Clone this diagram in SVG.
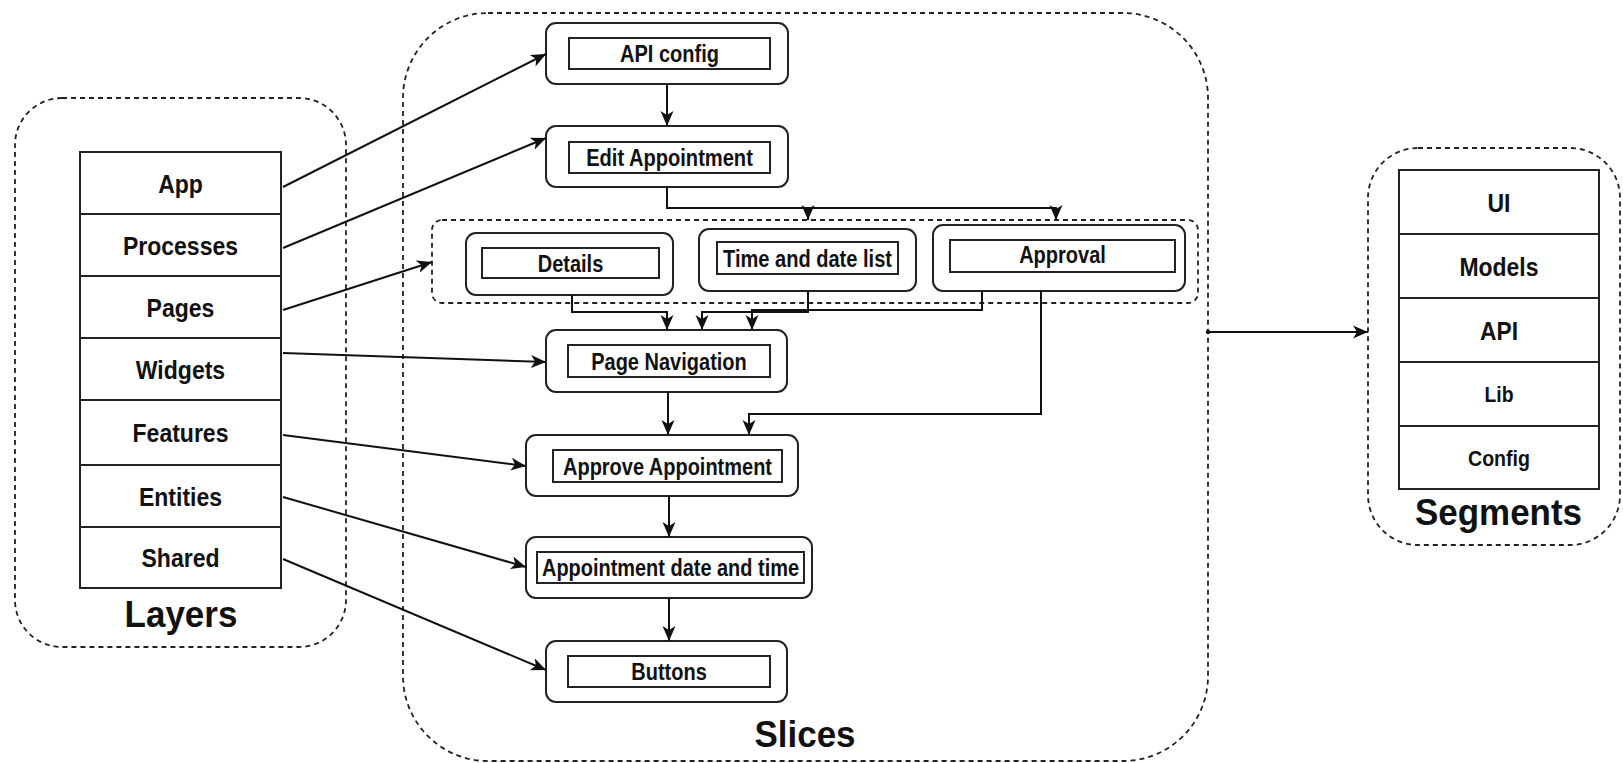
<svg xmlns="http://www.w3.org/2000/svg" width="1623" height="763" viewBox="0 0 1623 763">
  <style>
    .bg { fill: #ffffff; }
    .frame { fill: none; stroke: #222; stroke-width: 1.8; stroke-dasharray: 5 4; }
    .cell { fill: #ffffff; stroke: #222; stroke-width: 2; }
    .outer { fill: #ffffff; stroke: #222; stroke-width: 2; }
    .inner { fill: #ffffff; stroke: #222; stroke-width: 2; }
    .wire { fill: none; stroke: #111; stroke-width: 2; }
    text { font-family: "Liberation Sans", Arial, sans-serif; font-weight: bold; fill: #111; text-anchor: middle; }
    .layer { font-size: 26.5px; }
    .small { font-size: 22.5px; }
    .node { font-size: 23px; }
    .title { font-size: 37px; }
  </style>
  <defs>
    <marker id="arrow" markerUnits="userSpaceOnUse" markerWidth="16" markerHeight="14" refX="15" refY="7" orient="auto">
      <path d="M0,0.5 L15,7 L0,13.5 L4,7 Z" fill="#111"/>
    </marker>
  </defs>

  <rect class="bg" x="0" y="0" width="1623" height="763"/>

  <!-- Layers column -->
  <g id="layers">
    <rect class="frame" x="15" y="98" width="331" height="549" rx="47"/>
    <g id="layer-app">
      <rect class="cell" x="80" y="152" width="201" height="62"/>
      <text class="layer" x="180.5" y="192.5" textLength="44.7" lengthAdjust="spacingAndGlyphs">App</text>
    </g>
    <g id="layer-processes">
      <rect class="cell" x="80" y="214" width="201" height="62"/>
      <text class="layer" x="180.5" y="254.5" textLength="115" lengthAdjust="spacingAndGlyphs">Processes</text>
    </g>
    <g id="layer-pages">
      <rect class="cell" x="80" y="276" width="201" height="62"/>
      <text class="layer" x="180.5" y="316.5" textLength="67.8" lengthAdjust="spacingAndGlyphs">Pages</text>
    </g>
    <g id="layer-widgets">
      <rect class="cell" x="80" y="338" width="201" height="62"/>
      <text class="layer" x="180.5" y="378.5" textLength="89.4" lengthAdjust="spacingAndGlyphs">Widgets</text>
    </g>
    <g id="layer-features">
      <rect class="cell" x="80" y="400" width="201" height="65"/>
      <text class="layer" x="180.5" y="442" textLength="95.9" lengthAdjust="spacingAndGlyphs">Features</text>
    </g>
    <g id="layer-entities">
      <rect class="cell" x="80" y="465" width="201" height="62"/>
      <text class="layer" x="180.5" y="505.5" textLength="83.1" lengthAdjust="spacingAndGlyphs">Entities</text>
    </g>
    <g id="layer-shared">
      <rect class="cell" x="80" y="527" width="201" height="61"/>
      <text class="layer" x="180.5" y="567" textLength="78" lengthAdjust="spacingAndGlyphs">Shared</text>
    </g>
    <text class="title" x="181" y="627" textLength="112.8" lengthAdjust="spacingAndGlyphs">Layers</text>
  </g>

  <!-- Slices column -->
  <g id="slices">
    <rect class="frame" x="403" y="13" width="805" height="748" rx="85"/>
    <text class="title" x="805" y="747" textLength="101" lengthAdjust="spacingAndGlyphs">Slices</text>
  </g>

  <g id="api-config">
    <rect class="outer" x="546" y="23" width="242" height="61" rx="10"/>
    <rect class="inner" x="569" y="38" width="201" height="31"/>
    <text class="node" x="669.5" y="62" textLength="98.9" lengthAdjust="spacingAndGlyphs">API config</text>
  </g>

  <g id="edit-appointment">
    <rect class="outer" x="546" y="126" width="242" height="61" rx="10"/>
    <rect class="inner" x="569" y="142" width="201" height="31"/>
    <text class="node" x="669.5" y="166" textLength="166.7" lengthAdjust="spacingAndGlyphs">Edit Appointment</text>
  </g>

  <g id="page-group">
    <rect class="frame" x="432" y="220" width="766" height="83" rx="10"/>
  </g>

  <g id="details">
    <rect class="outer" x="466" y="233" width="207" height="62" rx="10"/>
    <rect class="inner" x="482" y="248" width="177" height="30"/>
    <text class="node" x="570.5" y="271.5" textLength="65.6" lengthAdjust="spacingAndGlyphs">Details</text>
  </g>

  <g id="time-date-list">
    <rect class="outer" x="699" y="229" width="217" height="62" rx="10"/>
    <rect class="inner" x="717" y="242" width="181" height="32"/>
    <text class="node" x="807.5" y="266.5" textLength="169" lengthAdjust="spacingAndGlyphs">Time and date list</text>
  </g>

  <g id="approval">
    <rect class="outer" x="933" y="225" width="252" height="66" rx="10"/>
    <rect class="inner" x="950" y="240" width="225" height="32"/>
    <text class="node" x="1062.5" y="263" textLength="86.7" lengthAdjust="spacingAndGlyphs">Approval</text>
  </g>

  <g id="page-navigation">
    <rect class="outer" x="546" y="330" width="241" height="62" rx="10"/>
    <rect class="inner" x="568" y="345" width="202" height="32"/>
    <text class="node" x="669" y="369.5" textLength="155.6" lengthAdjust="spacingAndGlyphs">Page Navigation</text>
  </g>

  <g id="approve-appointment">
    <rect class="outer" x="526" y="435" width="272" height="61" rx="10"/>
    <rect class="inner" x="553" y="450" width="229" height="32"/>
    <text class="node" x="667.5" y="474.5" textLength="209" lengthAdjust="spacingAndGlyphs">Approve Appointment</text>
  </g>

  <g id="appointment-date-time">
    <rect class="outer" x="526" y="537" width="286" height="61" rx="10"/>
    <rect class="inner" x="537" y="552" width="267" height="31"/>
    <text class="node" x="670.5" y="576" textLength="257" lengthAdjust="spacingAndGlyphs">Appointment date and time</text>
  </g>

  <g id="buttons">
    <rect class="outer" x="546" y="641" width="241" height="61" rx="10"/>
    <rect class="inner" x="568" y="656" width="202" height="31"/>
    <text class="node" x="669" y="680" textLength="75.5" lengthAdjust="spacingAndGlyphs">Buttons</text>
  </g>

  <!-- Segments column -->
  <g id="segments">
    <rect class="frame" x="1368" y="148" width="252" height="397" rx="50"/>
    <g id="segment-ui">
      <rect class="cell" x="1399" y="170" width="200" height="64"/>
      <text class="layer" x="1499" y="211.5" textLength="23" lengthAdjust="spacingAndGlyphs">UI</text>
    </g>
    <g id="segment-models">
      <rect class="cell" x="1399" y="234" width="200" height="64"/>
      <text class="layer" x="1499" y="275.5" textLength="79" lengthAdjust="spacingAndGlyphs">Models</text>
    </g>
    <g id="segment-api">
      <rect class="cell" x="1399" y="298" width="200" height="64"/>
      <text class="layer" x="1499" y="339.5" textLength="38" lengthAdjust="spacingAndGlyphs">API</text>
    </g>
    <g id="segment-lib">
      <rect class="cell" x="1399" y="362" width="200" height="64"/>
      <text class="small" x="1499" y="402" textLength="29" lengthAdjust="spacingAndGlyphs">Lib</text>
    </g>
    <g id="segment-config">
      <rect class="cell" x="1399" y="426" width="200" height="63"/>
      <text class="small" x="1499" y="465.5" textLength="62" lengthAdjust="spacingAndGlyphs">Config</text>
    </g>
    <text class="title" x="1498.5" y="525" textLength="167" lengthAdjust="spacingAndGlyphs">Segments</text>
  </g>

  <!-- Connectors -->
  <g id="connectors">
    <line class="wire" x1="283" y1="187" x2="546" y2="54" marker-end="url(#arrow)"/>
    <line class="wire" x1="283" y1="248" x2="546" y2="138" marker-end="url(#arrow)"/>
    <line class="wire" x1="283" y1="310" x2="432" y2="262" marker-end="url(#arrow)"/>
    <line class="wire" x1="283" y1="353" x2="546" y2="362" marker-end="url(#arrow)"/>
    <line class="wire" x1="283" y1="435" x2="526" y2="466" marker-end="url(#arrow)"/>
    <line class="wire" x1="283" y1="497" x2="526" y2="567" marker-end="url(#arrow)"/>
    <line class="wire" x1="283" y1="559" x2="546" y2="670" marker-end="url(#arrow)"/>

    <line class="wire" x1="667" y1="84" x2="667" y2="126" marker-end="url(#arrow)"/>
    <path class="wire" d="M667,187 V208 H808 V220" marker-end="url(#arrow)"/>
    <path class="wire" d="M667,187 V208 H1056 V220" marker-end="url(#arrow)"/>

    <path class="wire" d="M572,295 V312 H667 V330" marker-end="url(#arrow)"/>
    <path class="wire" d="M808,291 V312 H702 V330" marker-end="url(#arrow)"/>
    <path class="wire" d="M982,291 V310 H752 V330" marker-end="url(#arrow)"/>

    <line class="wire" x1="668" y1="392" x2="668" y2="435" marker-end="url(#arrow)"/>
    <path class="wire" d="M1041,291 V414 H749 V435" marker-end="url(#arrow)"/>
    <line class="wire" x1="669" y1="496" x2="669" y2="537" marker-end="url(#arrow)"/>
    <line class="wire" x1="669" y1="598" x2="669" y2="641" marker-end="url(#arrow)"/>

    <circle cx="1208" cy="332" r="2.2" fill="#111"/>
    <line class="wire" x1="1208" y1="332" x2="1368" y2="332" marker-end="url(#arrow)"/>
  </g>
</svg>
